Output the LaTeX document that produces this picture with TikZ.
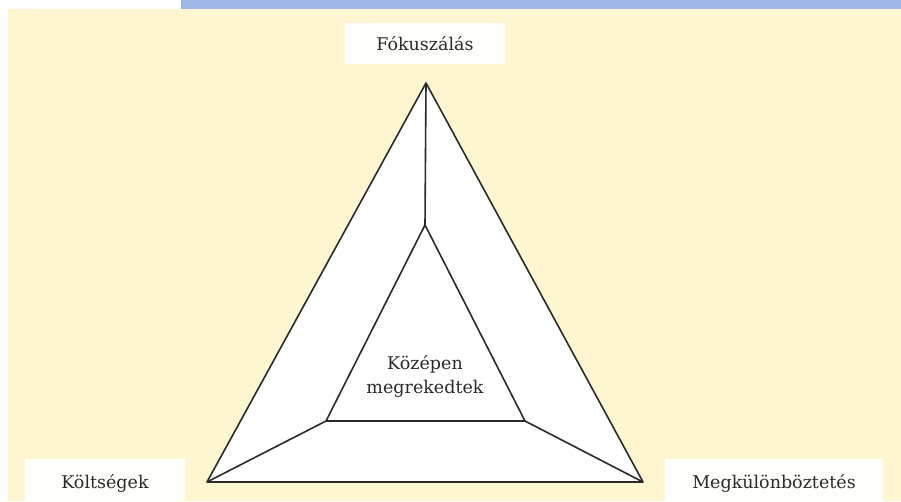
\documentclass[tikz,border=0pt]{standalone}
\usepackage{fontspec}
\setmainfont{DejaVu Serif}
\definecolor{cream}{HTML}{FDF6D0}
\definecolor{banner}{HTML}{9DB6E6}
\definecolor{ink}{HTML}{2A2A2A}
\definecolor{boxwhite}{HTML}{FEFEFB}
\begin{document}
\begin{tikzpicture}[x=1pt,y=-1pt,
  lbl/.style={fill=boxwhite,inner sep=0pt},
  txt/.style={text=ink,font=\fontsize{17.5}{24}\selectfont,align=center},
  edge/.style={draw=ink,line width=1.6pt,line join=round}]
\useasboundingbox (0,0) rectangle (901,501);
\fill[white] (0,0) rectangle (901,501);
\fill[cream] (8,9) rectangle (901,501);
\fill[banner] (181,0) rectangle (901,9);
% label boxes
\node[lbl,minimum width=160pt,minimum height=41pt] (fokbox) at (425,43) {};
\node[txt] (fok) at (425,44) {Fókuszálás};
\node[lbl,minimum width=160pt,minimum height=44pt] (kolbox) at (105,481) {};
\node[txt] (kol) at (105,483) {Költségek};
\node[lbl,minimum width=218pt,minimum height=44pt] (megbox) at (774,481) {};
\node[txt] (meg) at (774,483) {Megkülönböztetés};
% triangle vertices
\coordinate (A) at (426,83);
\coordinate (B) at (207,482);
\coordinate (C) at (643,482);
\coordinate (a) at (425,225);
\coordinate (b) at (326,421);
\coordinate (c) at (525,421);
\fill[white] (A) -- (B) -- (C) -- cycle;
\draw[edge] (A) -- (B) -- (C) -- cycle;
\draw[edge] (a) -- (b) -- (c) -- cycle;
\draw[edge] (A) -- (a);
\draw[edge] (B) -- (b);
\draw[edge] (C) -- (c);
\node[txt] (mid) at (425,376) {Középen\\megrekedtek};
\end{tikzpicture}
\end{document}
